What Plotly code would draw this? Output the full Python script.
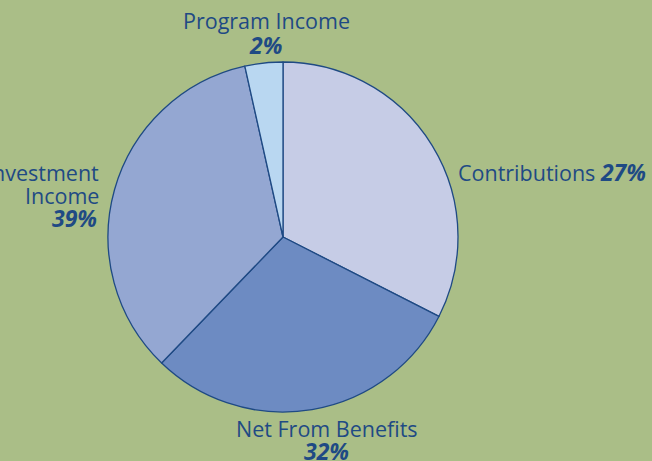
import plotly.graph_objects as go

categories = ["Contributions", "Net From Benefits", "Investment Income", "Program Income"]
# slice sizes as drawn in the picture (share of circle, %)
drawn_shares = [32.5, 29.7, 34.3, 3.5]
# percentages printed on the labels
label_pcts = ["27%", "32%", "39%", "2%"]
slice_colors = ["#C6CCE6", "#6D8BC2", "#94A7D2", "#B9D7F1"]

text_color = "#1F4A84"
bg = "#AABE87"
font_family = "Open Sans, Noto Sans, sans-serif"
W, H = 652, 461

fig = go.Figure(go.Pie(
    labels=categories,
    values=drawn_shares,
    sort=False,
    direction="clockwise",
    rotation=0,
    marker=dict(colors=slice_colors, line=dict(color="#1F4A84", width=1.3)),
    textinfo="none",
    hoverinfo="label+percent",
    showlegend=False,
    domain=dict(x=[108/W, 458/W], y=[49/H, 399/H]),
))

def pct(s):
    return f"<b><i>{s}</i></b>"

LS, PS = 21.5, 23
# (text, x_px, y_px, xanchor)
lines = [
    (categories[3], 266, 20, "center"),
    (pct(label_pcts[3]), 265, 45, "center"),
    ("Investment", 101, 172, "right"),
    ("Income", 101, 195, "right"),
    (pct(label_pcts[2]), 99, 218, "right"),
    (f"{categories[0]} <span style='font-size:{PS}px'>{pct(label_pcts[0])}</span>", 456, 172, "left"),
    (categories[1], 327, 428, "center"),
    (pct(label_pcts[1]), 326, 451, "center"),
]
ann = []
for t, x, y, xa in lines:
    size = PS if t.startswith("<b>") else LS
    ann.append(dict(text=t, x=x/W, y=1-y/H, xref="paper", yref="paper",
                    xanchor=xa, yanchor="middle", showarrow=False,
                    font=dict(family=font_family, size=size, color=text_color)))

fig.update_layout(
    width=W, height=H,
    margin=dict(l=0, r=0, t=0, b=0),
    paper_bgcolor=bg, plot_bgcolor=bg,
    annotations=ann,
)

fig.write_html("out.html", config={"displayModeBar": False},
               post_script="document.body.style.margin='0';")
